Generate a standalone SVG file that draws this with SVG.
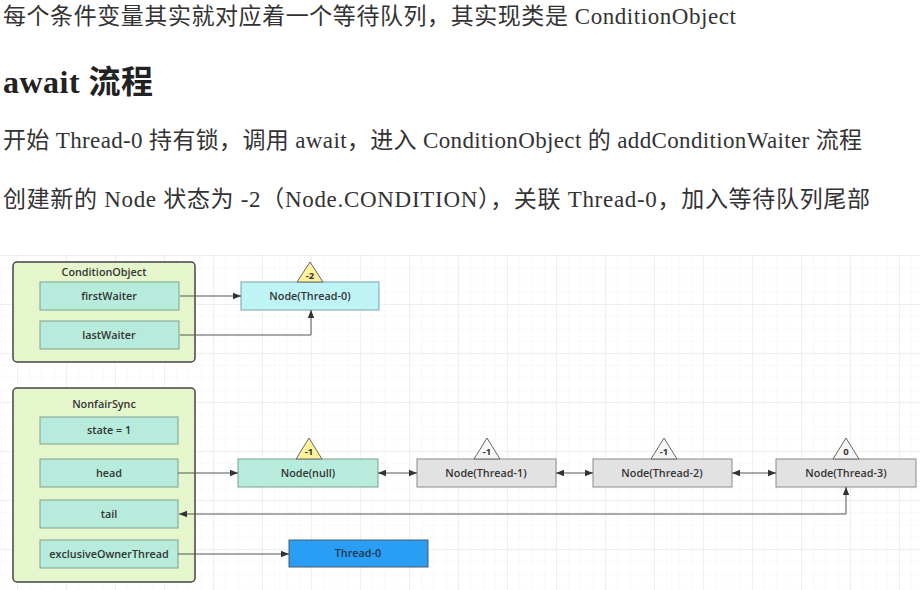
<svg xmlns="http://www.w3.org/2000/svg" width="920" height="590" viewBox="0 0 920 590">
<style>
.p{font-family:"Liberation Serif","Noto Sans CJK SC",serif;fill:#333;font-size:23px}
.h{font-family:"Liberation Serif","Noto Sans CJK SC",serif;fill:#222;font-size:32px;font-weight:bold}
.t{font-family:"Open Sans","Noto Sans",sans-serif;font-size:10.8px;font-weight:600;fill:#333;text-anchor:middle}
.cont{fill:#e6f6cc;stroke:#444;stroke-width:1.5}
.fld{fill:#b7ecdc;stroke:#7f9f90;stroke-width:1}
.cyan{fill:#bff4f7;stroke:#7fa0a4;stroke-width:1}
.gray{fill:#e2e2e2;stroke:#8a8a8a;stroke-width:1}
.blue{fill:#2a9df4;stroke:#4a5a6a;stroke-width:1}
.ytri{fill:#fff29a;stroke:#666;stroke-width:1}
.gtri{fill:#f6f6f6;stroke:#666;stroke-width:1}
.tt{font-family:"Open Sans","Noto Sans",sans-serif;font-size:9.5px;font-weight:700;fill:#333;text-anchor:middle}
.ln{fill:none;stroke:#555;stroke-width:1}
</style>
<defs>
<pattern id="minor" x="17" y="255" width="12.25" height="12.25" patternUnits="userSpaceOnUse">
<path d="M0 0H12.25M0 0V12.25" fill="none" stroke="#f3f3f3" stroke-width="1"/>
</pattern>
<pattern id="major" x="17" y="255" width="49" height="49" patternUnits="userSpaceOnUse">
<path d="M0 0H49M0 0V49" fill="none" stroke="#e6e6e6" stroke-width="1"/>
</pattern>
<marker id="ah" viewBox="0 0 10 10" refX="10" refY="5" markerWidth="8" markerHeight="8" markerUnits="userSpaceOnUse" orient="auto-start-reverse">
<path d="M0 1L10 5L0 9z" fill="#333"/>
</marker>
</defs>
<rect width="920" height="590" fill="#fff"/>
<rect x="0" y="255" width="920" height="335" fill="url(#minor)"/>
<rect x="0" y="255" width="920" height="335" fill="url(#major)"/>

<g id="text">
<text class="p" x="3" y="24" textLength="733">每个条件变量其实就对应着一个等待队列，其实现类是 ConditionObject</text>
<text class="h" x="3" y="93" textLength="150">await 流程</text>
<text class="p" x="3" y="148" textLength="859">开始 Thread-0 持有锁，调用 await，进入 ConditionObject 的 addConditionWaiter 流程</text>
<text class="p" x="3" y="207" textLength="867">创建新的 Node 状态为 -2（Node.CONDITION），关联 Thread-0，加入等待队列尾部</text>
</g>

<g id="ConditionObject">
<rect class="cont" x="13" y="262" width="182" height="100" rx="4"/>
<text class="t" x="104" y="276">ConditionObject</text>
</g>
<g id="firstWaiter">
<rect class="fld" x="40" y="282" width="139" height="28"/>
<text class="t" x="109" y="300">firstWaiter</text>
</g>
<g id="lastWaiter">
<rect class="fld" x="40" y="321" width="139" height="28"/>
<text class="t" x="109" y="339">lastWaiter</text>
</g>
<g id="NodeThread0">
<rect class="cyan" x="241" y="282" width="138" height="28"/>
<text class="t" x="310" y="300">Node(Thread-0)</text>
<path class="ytri" d="M310 262L323 282H297z"/>
<text class="tt" x="310" y="279">-2</text>
</g>

<g id="NonfairSync">
<rect class="cont" x="13" y="388" width="182" height="194" rx="4"/>
<text class="t" x="104" y="408">NonfairSync</text>
</g>
<g id="state">
<rect class="fld" x="40" y="417" width="138" height="27"/>
<text class="t" x="109" y="434">state = 1</text>
</g>
<g id="head">
<rect class="fld" x="40" y="459" width="138" height="28"/>
<text class="t" x="109" y="477">head</text>
</g>
<g id="tail">
<rect class="fld" x="40" y="500" width="138" height="28"/>
<text class="t" x="109" y="518">tail</text>
</g>
<g id="exclusiveOwnerThread">
<rect class="fld" x="40" y="540" width="138" height="28"/>
<text class="t" x="109" y="558">exclusiveOwnerThread</text>
</g>

<g id="NodeNull">
<rect class="fld" x="238" y="459" width="140" height="28"/>
<text class="t" x="308" y="477">Node(null)</text>
<path class="ytri" d="M309 438L322 459H296z"/>
<text class="tt" x="309" y="455">-1</text>
</g>
<g id="NodeThread1">
<rect class="gray" x="417" y="459" width="139" height="28"/>
<text class="t" x="486" y="477">Node(Thread-1)</text>
<path class="gtri" d="M487 438L500 459H474z"/>
<text class="tt" x="487" y="455">-1</text>
</g>
<g id="NodeThread2">
<rect class="gray" x="593" y="459" width="139" height="28"/>
<text class="t" x="662" y="477">Node(Thread-2)</text>
<path class="gtri" d="M664 438L677 459H651z"/>
<text class="tt" x="664" y="455">-1</text>
</g>
<g id="NodeThread3">
<rect class="gray" x="776" y="459" width="140" height="28"/>
<text class="t" x="846" y="477">Node(Thread-3)</text>
<path class="gtri" d="M846 438L859 459H833z"/>
<text class="tt" x="846" y="455">0</text>
</g>
<g id="Thread0">
<rect class="blue" x="289" y="540" width="139" height="27"/>
<text class="t" x="358" y="557" style="fill:#1c3550">Thread-0</text>
</g>

<g id="connectors">
<line class="ln" x1="180" y1="296" x2="241" y2="296" marker-end="url(#ah)"/>
<polyline class="ln" points="180,335 311,335 311,310" marker-end="url(#ah)"/>
<line class="ln" x1="178" y1="473" x2="238" y2="473" marker-end="url(#ah)"/>
<line class="ln" x1="378" y1="473" x2="417" y2="473" marker-start="url(#ah)" marker-end="url(#ah)"/>
<line class="ln" x1="556" y1="473" x2="593" y2="473" marker-start="url(#ah)" marker-end="url(#ah)"/>
<line class="ln" x1="732" y1="473" x2="776" y2="473" marker-start="url(#ah)" marker-end="url(#ah)"/>
<polyline class="ln" points="179,514 846,514 846,487" marker-start="url(#ah)" marker-end="url(#ah)"/>
<line class="ln" x1="178" y1="554" x2="289" y2="554" marker-end="url(#ah)"/>
</g>
</svg>
